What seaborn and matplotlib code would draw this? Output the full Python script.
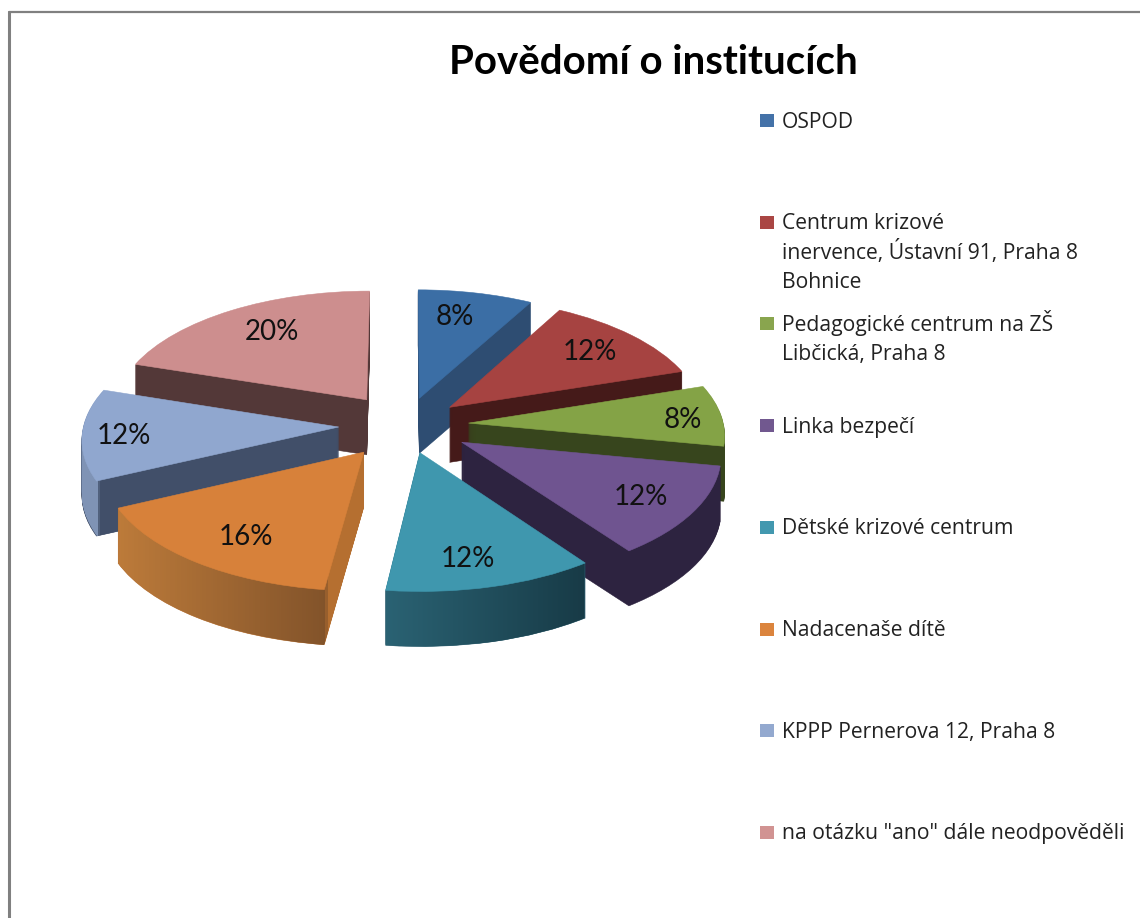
import matplotlib
matplotlib.use("Agg")
import matplotlib.pyplot as plt
from matplotlib.colors import to_rgb
from matplotlib.lines import Line2D
from matplotlib.patches import Rectangle
from matplotlib.path import Path
from matplotlib.transforms import Affine2D, IdentityTransform, Transform
import numpy as np
import seaborn as sns

title = "Povědomí o institucích"
labels = [
    "OSPOD",
    "Centrum krizové\ninervence, Ústavní 91, Praha 8\nBohnice",
    "Pedagogické centrum na ZŠ\nLibčická, Praha 8",
    "Linka bezpečí",
    "Dětské krizové centrum",
    "Nadacenaše dítě",
    "KPPP Pernerova 12, Praha 8",
    "na otázku \"ano\" dále neodpověděli",
]
values = [8, 12, 8, 12, 12, 16, 12, 20]

top_colors = ["#3b6ea5", "#a64341", "#84a346", "#6f5490",
              "#3f97ae", "#d7813a", "#90a7cf", "#cd8e8e"]
side_colors = ["#2e4d72", "#451a19", "#37451d", "#2d2340",
               "#26596a", "#b56f30", "#414f69", "#533838"]
legend_colors = ["#4472a8", "#aa4644", "#89a54e", "#71588f",
                 "#4298af", "#db843d", "#93a9cf", "#d19392"]

explode = [0.23, 0.23, 0.25, 0.26, 0.23, 0.27, 0.26, 0.26]
# percent label nudges in pixels (right, down)
pct_nudge = [(-10, 4), (-7, 3), (12, 3), (-4, -1), (-8, 1), (14, -2), (-10, 3), (15, 5)]

# back to front, so nearer slices cover the ones behind
draw_order = [0, 7, 1, 6, 2, 3, 5, 4]

# shaded outer walls: slice -> (pixel x stops, colours)
wall_shades = {
    4: ([385, 585], ["#2a6273", "#173a46"]),
    5: ([115, 326, 327, 370], ["#bd7b3a", "#82532a", "#b56f30", "#b56f30"]),
    6: ([78, 98, 99, 340], ["#7f93b5", "#7f93b5", "#414f69", "#414f69"]),
}

W, H = 1140, 918
CX, CY = 405, 425
RX, RY = 255, 122
TILT = 0.085
DEPTH = 55


class Tilt(Transform):
    # the far side of the pie shrinks, the near side grows
    input_dims = 2
    output_dims = 2

    def transform_non_affine(self, xy):
        xy = np.asarray(xy, dtype=float)
        return xy / (1 + TILT * xy[:, 1:2])


def px_x(px):
    return (px - CX) / RX


sns.set_theme(style="white")
plt.rcParams["font.family"] = ["Lato", "DejaVu Sans"]

fig, ax = plt.subplots(figsize=(W / 100, H / 100), dpi=100)
fig.subplots_adjust(0, 0, 1, 1)

palette = sns.color_palette(top_colors)
view = Tilt() + ax.transData
walls = {i: [] for i in range(len(values))}

for z in range(DEPTH, 0, -1):
    wedges, _ = ax.pie(values, explode=explode, colors=side_colors,
                       startangle=90, counterclock=False)
    for i, w in enumerate(wedges):
        w.set_transform(view + Affine2D().translate(0, -z))
        w.set_zorder(draw_order.index(i) * 1000 + DEPTH - z)
        w.set_edgecolor(side_colors[i])
        w.set_linewidth(0.4)
        walls[i].append(w)

wedges, _, pcts = ax.pie(values, explode=explode, colors=palette,
                         startangle=90, counterclock=False,
                         autopct="%d%%", pctdistance=0.8,
                         textprops={"fontsize": 20, "color": "#111111"})
for i, w in enumerate(wedges):
    w.set_transform(view)
    w.set_zorder(draw_order.index(i) * 1000 + 600)
    w.set_edgecolor(palette[i])
    w.set_linewidth(0.4)
for t, (dx, dy) in zip(pcts, pct_nudge):
    t.set_transform(view + Affine2D().translate(dx, -dy))
    t.set_zorder(20000)

ax.set_aspect("auto")
ax.set_xlim(px_x(0), px_x(W))
ax.set_ylim(-(H - CY) / RY, CY / RY)
ax.set_axis_off()

for i, (stops, cols) in wall_shades.items():
    xs = np.linspace(stops[0], stops[-1], 121)
    mids = (xs[:-1] + xs[1:]) / 2
    rgb = np.array([to_rgb(c) for c in cols])
    shade = np.stack([np.interp(mids, stops, rgb[:, k]) for k in range(3)], axis=1)
    mesh = ax.pcolormesh(px_x(xs), list(ax.get_ylim()), shade[np.newaxis, :, :],
                         shading="flat", antialiased=False,
                         zorder=draw_order.index(i) * 1000 + 500)
    outline = Path.make_compound_path(
        *[w.get_transform().transform_path(w.get_path()) for w in walls[i]])
    mesh.set_clip_path(outline, IdentityTransform())
ax.set_xlim(px_x(0), px_x(W))
ax.set_ylim(-(H - CY) / RY, CY / RY)

fig.text(653 / W, 1 - 62 / H, title, fontsize=29, fontweight="bold",
         family="Lato", color="#000000", ha="center", va="center")

for i, label in enumerate(labels):
    y = 120.5 + 101.7 * i
    fig.add_artist(Rectangle((760 / W, 1 - (y + 6.5) / H), 14 / W, 13 / H,
                             transform=fig.transFigure,
                             facecolor=legend_colors[i], edgecolor="none"))
    for j, line in enumerate(label.split("\n")):
        fig.text(782 / W, 1 - (y + 7 + j * 29.5) / H, line, fontsize=15.2,
                 family="Open Sans", color="#222222", ha="left", va="baseline")

frame = "#808080"
fig.add_artist(Line2D([8.5 / W, 8.5 / W], [0, 1 - 12 / H], color=frame, lw=2.2))
fig.add_artist(Line2D([8.5 / W, 1], [1 - 12 / H, 1 - 12 / H], color=frame, lw=1.6))

fig.savefig("out.png", dpi=100, facecolor="white")
